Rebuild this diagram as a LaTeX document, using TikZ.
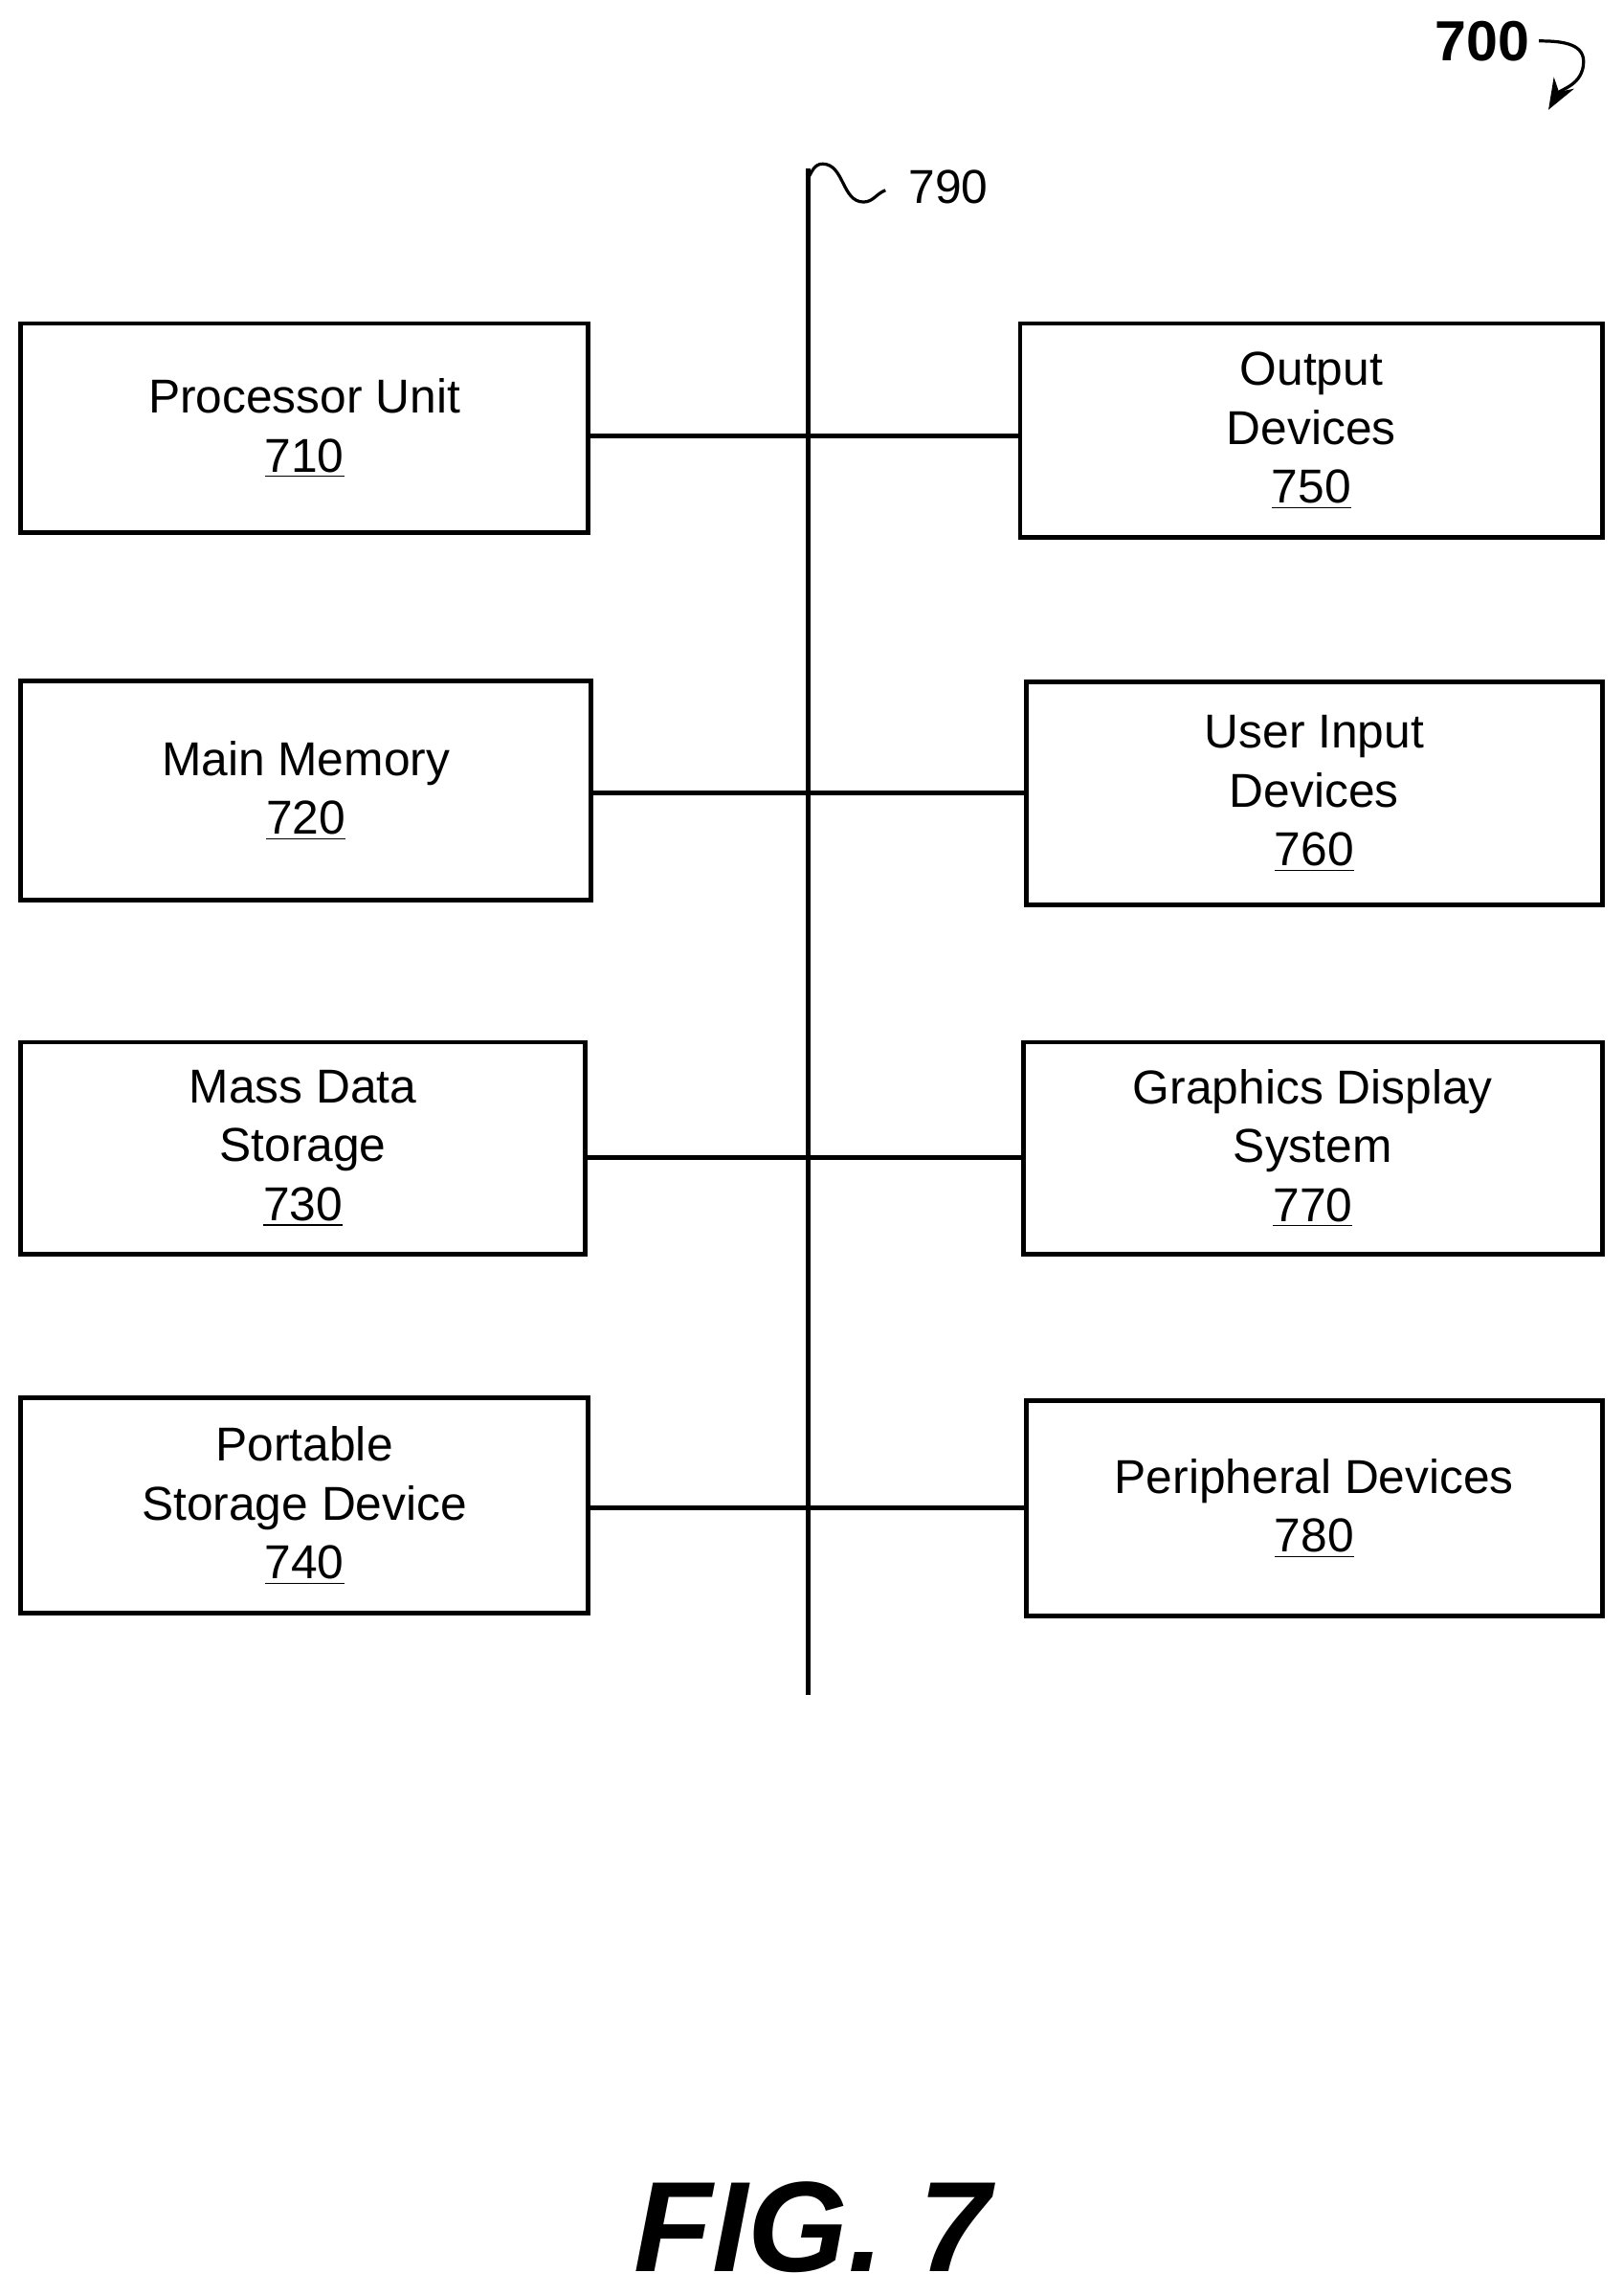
\documentclass[tikz,border=0pt]{standalone}
\usepackage{fontspec}
\setmainfont{Liberation Sans}
\usetikzlibrary{arrows.meta}

\tikzset{
  unit/.style={draw, line width=1.8pt, align=center, inner sep=0pt,
    font=\fontsize{18.5}{23}\selectfont},
  link/.style={line width=1.8pt}
}

\begin{document}
\begin{tikzpicture}[x=0.02cm, y=-0.02cm]
  \useasboundingbox (0,0) rectangle (1109,1568);
  % left column
  \node[unit, minimum width=7.76cm, minimum height=2.86cm] (proc) at (208,292.5) {Processor Unit\\\underline{710}};
  \node[unit, minimum width=7.8cm, minimum height=3.0cm] (mem) at (209,540) {Main Memory\\\underline{720}};
  \node[unit, minimum width=7.72cm, minimum height=2.9cm] (mass) at (207,784.5) {Mass Data\\Storage\\\underline{730}};
  \node[unit, minimum width=7.76cm, minimum height=2.94cm] (port) at (208,1028.5) {Portable\\Storage Device\\\underline{740}};
  % right column
  \node[unit, minimum width=7.96cm, minimum height=2.92cm] (out) at (896,294) {Output\\Devices\\\underline{750}};
  \node[unit, minimum width=7.88cm, minimum height=3.04cm] (inp) at (898,542) {User Input\\Devices\\\underline{760}};
  \node[unit, minimum width=7.92cm, minimum height=2.9cm] (gfx) at (897,784.5) {Graphics Display\\System\\\underline{770}};
  \node[unit, minimum width=7.88cm, minimum height=2.94cm] (peri) at (898,1030.5) {Peripheral Devices\\\underline{780}};

  % bus
  \coordinate (bustop) at (552,115);
  \coordinate (busbot) at (552,1158);
  \draw[link] (bustop) -- (busbot);
  \draw[line width=1.2pt] (552,122) to[out=60,in=180] (562,112) to[out=0,in=180] (590,138) to[out=0,in=200] (605,130);
  \node[font=\fontsize{18.5}{23}\selectfont] (busnum) at (648,128) {790};

  \foreach \l/\r/\y in {proc/out/298, mem/inp/542, mass/gfx/791, port/peri/1030}
    \draw[link] (\l.east |- 0,\y) -- (\r.west |- 0,\y);

  % figure number
  \node[font=\fontsize{22}{26}\selectfont\bfseries] (fignum) at (1013,28) {700};
  \draw[line width=1.2pt, -{Stealth[length=12pt,width=9pt]}] (fignum.east) to[out=0,in=90] (1082,42) to[out=-90,in=60] (1058,75);

  \node[font=\fontsize{50}{54}\selectfont\bfseries\itshape] (fig) at (555,1522) {FIG. 7};
\end{tikzpicture}
\end{document}
